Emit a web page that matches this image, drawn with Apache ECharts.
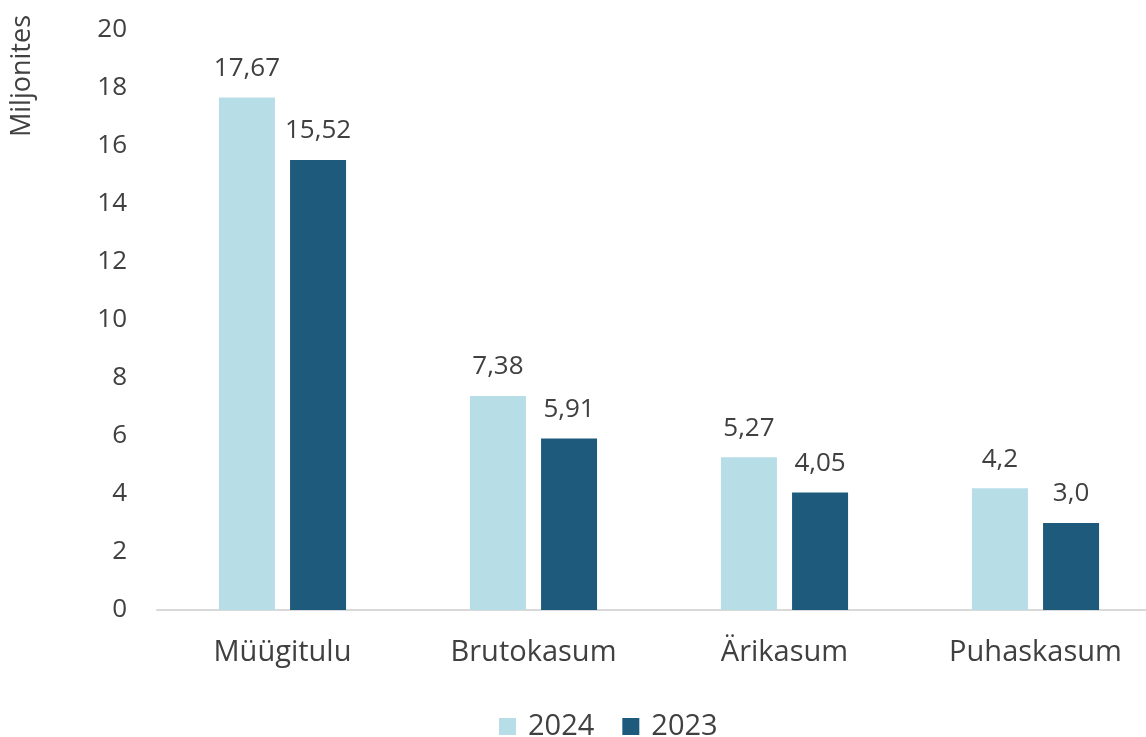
<!DOCTYPE html>
<html>
<head>
<meta charset="utf-8">
<script src="https://cdn.jsdelivr.net/npm/echarts@6/dist/echarts.min.js"></script>
<style>
	html, body { margin: 0; padding: 0; background: #fff; overflow: hidden; }
	#chart { width: 1161px; height: 737px; }
</style>
</head>
<body>
<div id="chart"></div>
<script>
	// andmed
	let categories = ['Müügitulu', 'Brutokasum', 'Ärikasum', 'Puhaskasum'];
	let values2024 = [17.67, 7.38, 5.27, 4.2];
	let values2023 = [15.52, 5.91, 4.05, 3.0];
	let labels2024 = ['17,67', '7,38', '5,27', '4,2'];
	let labels2023 = ['15,52', '5,91', '4,05', '3,0'];
	let yTicks = [0, 20, 2];

	let fontFamily = 'Open Sans, sans-serif';
	let textColor = '#404040';

	// joonise ala on aknast veidi laiem, parem serv jääb välja nagu originaalis
	let chart = echarts.init(document.getElementById('chart'));

	function barSeries(name, values, labels, color) {
		return {
			name: name,
			type: 'bar',
			data: values,
			barWidth: 56,
			barGap: '27%',
			itemStyle: { color: color },
			label: {
				show: true,
				position: 'top',
				distance: 16,
				color: textColor,
				fontFamily: fontFamily,
				fontSize: 26,
				formatter: function(p) { return labels[p.dataIndex]; }
			}
		};
	}

	let chartOption = {
		animation: false,
		grid: {
			left: 157,
			top: 30,
			right: 0,
			bottom: 127
		},
		graphic: [{
			type: 'text',
			x: 22,
			y: 76,
			rotation: Math.PI / 2,
			style: {
				text: 'Miljonites',
				fill: textColor,
				font: '27px Open Sans',
				align: 'center',
				verticalAlign: 'middle'
			}
		}],
		legend: {
			data: ['2024', '2023'],
			top: 707,
			left: 494,
			itemWidth: 17,
			itemHeight: 17,
			itemGap: 28,
			icon: 'rect',
			textStyle: {
				color: textColor,
				fontFamily: fontFamily,
				fontSize: 29,
				padding: [0, 0, 0, 7]
			}
		},
		xAxis: {
			type: 'category',
			data: categories,
			axisLine: { lineStyle: { color: '#d9d9d9', width: 2 } },
			axisTick: { show: false },
			axisLabel: {
				color: textColor,
				fontFamily: fontFamily,
				fontSize: 29,
				margin: 28
			}
		},
		yAxis: {
			type: 'value',
			min: yTicks[0],
			max: yTicks[1],
			interval: yTicks[2],
			axisLine: { show: false },
			axisTick: { show: false },
			splitLine: { show: false },
			axisLabel: {
				color: textColor,
				fontFamily: fontFamily,
				fontSize: 26,
				margin: 30
			}
		},
		series: [
			barSeries('2024', values2024, labels2024, '#b7dde7'),
			barSeries('2023', values2023, labels2023, '#1d5a7b')
		]
	};
	chart.setOption(chartOption);
</script>
</body>
</html>
